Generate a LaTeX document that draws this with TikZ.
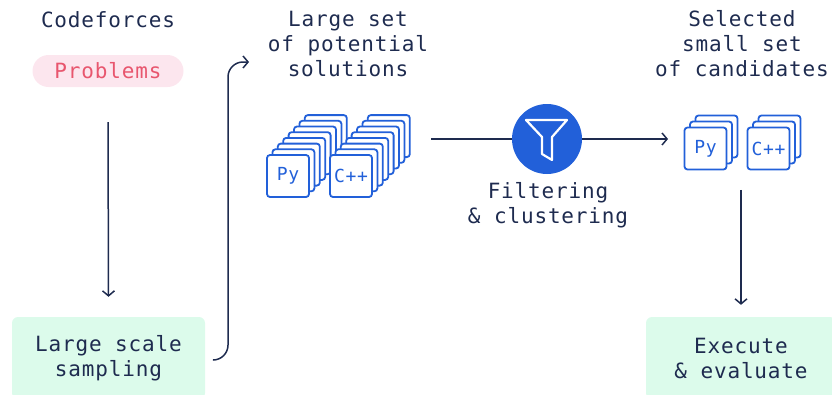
\documentclass[tikz,border=0pt]{standalone}
\usepackage{fontspec}
\setmainfont{DejaVu Sans Mono}[LetterSpace=4]
\usetikzlibrary{arrows.meta}
\definecolor{navy}{HTML}{1E2B4F}
\definecolor{cardblue}{HTML}{2260D9}
\definecolor{pinkfill}{HTML}{FCE6EE}
\definecolor{pinktext}{HTML}{E8566E}
\definecolor{mint}{HTML}{DCFBEB}
\begin{document}
\begin{tikzpicture}[x=1pt,y=-1pt,
	txt/.style={text=navy,font=\fontsize{21}{25}\selectfont,align=center,inner sep=0pt},
	card/.style={draw=cardblue,fill=white,line width=1.8pt,rounded corners=3pt,minimum width=42pt,minimum height=42pt,inner sep=0pt,text=cardblue,font=\fontsize{18}{20}\selectfont},
	conn/.style={draw=navy,line width=1.5pt,-{Straight Barb[length=5pt,width=12pt]}},
	box/.style={txt,fill=mint,rounded corners=6pt,minimum height=82pt}]
	\useasboundingbox (0,0) rectangle (832,394);
	\clip (0,0) rectangle (832,394);
	\node[txt] (codeforces) at (108,20) {Codeforces};
	\node[txt,fill=pinkfill,text=pinktext,rounded corners=16pt,minimum width=151pt,minimum height=32pt] (problems) at (108,71) {Problems};
	\node[box,minimum width=193pt] (sample) at (108.5,358) {Large scale\\sampling};
	\node[txt] (large) at (348,44) {Large set\\of potential\\solutions};
	\node[txt] (selected) at (742,44) {Selected\\small set\\of candidates};
	\node[txt] (filtering) at (548,205) {Filtering\\\& clustering};
	\node[box,minimum width=190pt] (exec) at (741,358) {Execute\\\& evaluate};
	\foreach \i in {7,...,1}
		\node[card] at (288+5.4*\i,176-5.7*\i) {};
	\node[card] (py) at (288,176) {Py};
	\foreach \i in {7,...,1}
		\node[card] at (351+5.4*\i,176-5.7*\i) {};
	\node[card] (cpp) at (351,176) {C++};
	\foreach \i in {2,1}{
		\node[card] at (705.5+5.5*\i,148.5-6*\i) {};
		\node[card] at (768.5+5.5*\i,148.5-6*\i) {};
	}
	\node[card] (selpy) at (705.5,148.5) {Py};
	\node[card] (selcpp) at (768.5,148.5) {C++};
	\node[circle,fill=cardblue,minimum size=70pt,inner sep=0pt] (filter) at (547,139) {};
	\draw[white,line width=2.2pt,line join=round] ([shift={(-21,-19)}]filter.center) -- ++(41,0) -- ++(-15,17) -- ++(0,23) -- ++(-10,-6) -- ++(0,-17) -- cycle;
	\coordinate (stackout) at (431,139);
	\coordinate (selin) at (668,139);
	\draw[navy,line width=1.5pt] (stackout) -- (filter);
	\draw[conn] (filter) -- (selin);
	\draw[conn] ([yshift=-35pt]problems.south) -- ([yshift=20pt]sample.north);
	\draw[conn,rounded corners=15pt] ([xshift=8pt,yshift=-2pt]sample.east) -| (228,62) -- (249,62);
	\draw[conn] ([yshift=127pt]exec.north) -- ([yshift=12pt]exec.north);
\end{tikzpicture}
\end{document}
